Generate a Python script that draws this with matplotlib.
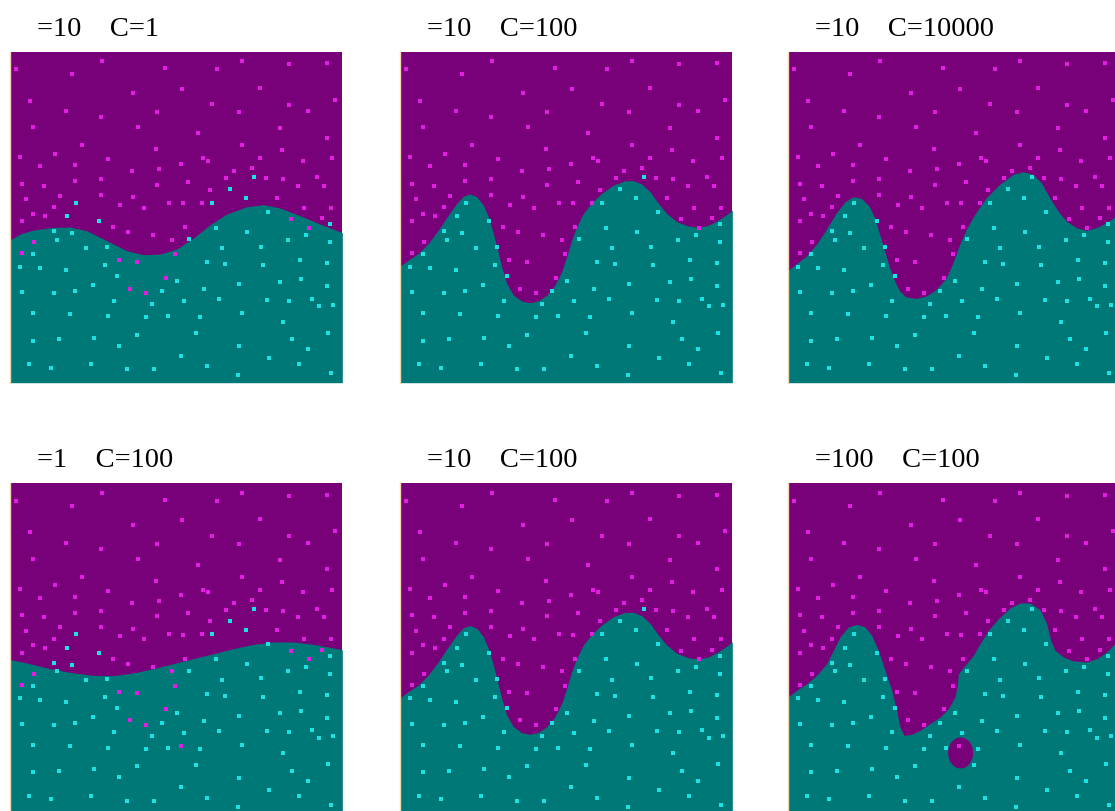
"""SVM decision regions for different gamma / C settings (2 x 3 grid)."""

import matplotlib
matplotlib.use("Agg")
import matplotlib.pyplot as plt
import numpy as np
from matplotlib.patches import Ellipse

# Panel units: x 0..997, y 0..993
XMAX, YMAX = 997, 993

# Magenta class points
POS_POINTS = [
    (17, 940), (275, 964), (465, 943), (697, 964), (620, 940), (837, 955), (950, 958),
    (186, 925), (368, 869), (515, 882), (750, 885), (59, 846), (607, 835), (836, 834),
    (975, 849), (169, 815), (272, 796), (442, 812), (687, 812), (893, 815), (70, 766),
    (385, 766), (565, 749), (810, 763), (950, 735), (216, 712), (438, 700), (697, 712),
    (815, 698), (29, 677), (136, 687), (295, 671), (580, 674), (593, 666), (750, 674),
    (878, 666), (967, 674), (89, 649), (196, 653), (365, 634), (448, 640), (512, 657),
    (726, 643), (673, 634), (920, 616), (37, 597), (102, 591), (196, 604), (272, 611),
    (442, 594), (534, 603), (647, 614), (767, 614), (820, 611), (865, 591), (943, 591),
    (151, 561), (272, 562), (368, 557), (600, 579), (802, 553), (49, 550), (133, 526),
    (331, 534), (403, 525), (478, 540), (519, 538), (577, 540), (883, 525), (963, 525),
    (69, 507), (106, 499), (37, 485), (842, 491), (935, 493), (308, 467), (525, 467),
    (897, 465), (355, 451), (429, 442), (486, 429), (73, 422), (37, 388), (495, 385),
    (326, 368), (382, 363), (469, 315), (359, 282), (409, 269),
]

# Cyan class points
NEG_POINTS = [
    (733, 616), (661, 580), (607, 540), (707, 553), (199, 540), (172, 499), (775, 511),
    (267, 485), (959, 475), (617, 465), (710, 451), (133, 454), (186, 448), (140, 429),
    (538, 431), (833, 429), (887, 442), (959, 421), (229, 403), (291, 407), (635, 404),
    (753, 408), (69, 385), (590, 361), (646, 355), (869, 368), (950, 358), (29, 348),
    (89, 344), (169, 338), (285, 352), (760, 352), (322, 320), (502, 304), (810, 303),
    (873, 310), (249, 292), (687, 295), (950, 289), (37, 271), (133, 268), (196, 275),
    (456, 275), (583, 281), (312, 246), (425, 236), (522, 244), (627, 250), (770, 249),
    (836, 246), (905, 252), (928, 230), (970, 234), (70, 209), (179, 206), (295, 200),
    (408, 196), (474, 200), (571, 196), (697, 209), (820, 183), (70, 126), (146, 131),
    (252, 135), (382, 144), (558, 148), (847, 131), (953, 150), (326, 111), (686, 110),
    (893, 100), (514, 81), (776, 73), (57, 55), (123, 45), (243, 55), (352, 40),
    (431, 40), (591, 49), (866, 55), (962, 28), (683, 22),
]

# one extra magenta point shown only in the bottom-left / bottom-right panels
EXTRA_POS = (513, 206)

# Decision boundaries (teal below, purple above)
BND_G10_C1 = [
    (0, 428), (30, 446), (70, 458), (130, 466), (180, 467), (230, 456), (290, 426),
    (350, 396), (400, 384), (450, 386), (500, 401), (550, 434), (600, 474), (650, 506),
    (710, 528), (760, 534), (810, 524), (870, 501), (930, 476), (997, 450),
]
BND_G10_C100 = [
    (0, 350), (25, 368), (55, 388), (85, 418), (115, 458), (145, 503), (170, 538),
    (190, 560), (210, 566), (230, 558), (250, 533), (265, 498), (280, 448), (293, 398),
    (305, 348), (320, 298), (340, 263), (365, 245), (390, 240), (415, 246), (440, 263),
    (465, 293), (485, 333), (500, 378), (515, 428), (530, 468), (550, 508), (575, 540),
    (605, 568), (640, 593), (675, 606), (700, 606), (725, 596), (750, 573), (775, 538),
    (800, 508), (830, 483), (865, 470), (895, 466), (925, 472), (955, 488), (985, 508),
    (997, 518),
]
BND_G10_C10000 = [
    (0, 337), (25, 357), (55, 380), (85, 415), (115, 460), (145, 510), (170, 542),
    (195, 558), (220, 553), (243, 530), (260, 495), (275, 445), (290, 395), (305, 345),
    (320, 305), (335, 275), (355, 257), (385, 253), (415, 260), (445, 280), (475, 315),
    (495, 360), (515, 415), (535, 460), (560, 505), (595, 555), (635, 595), (675, 625),
    (705, 633), (735, 625), (760, 600), (785, 555), (810, 515), (835, 485), (865, 465),
    (895, 457), (925, 465), (955, 480), (985, 500), (997, 508),
]
BND_G1_C100 = [
    (0, 464), (50, 454), (120, 437), (190, 424), (250, 417), (310, 416), (370, 424),
    (430, 437), (490, 452), (550, 467), (610, 482), (670, 497), (730, 510), (790, 517),
    (850, 517), (910, 510), (970, 499), (997, 494),
]
BND_G100_C100 = [
    (0, 352), (26, 372), (56, 392), (86, 417), (116, 452), (136, 492), (156, 532),
    (181, 562), (206, 570), (231, 562), (251, 537), (271, 492), (291, 432), (311, 372),
    (326, 312), (336, 262), (348, 237), (371, 240), (396, 252), (426, 272), (456, 292),
    (481, 317), (501, 352), (508, 387), (511, 422), (531, 447), (556, 477), (576, 512),
    (601, 552), (631, 587), (666, 619), (696, 634), (726, 634), (756, 614), (776, 572),
    (788, 522), (801, 492), (826, 472), (856, 460), (896, 457), (926, 467), (956, 487),
    (981, 512), (997, 528),
]
# isolated purple island in the gamma=100 panel: centre x, centre y, width, height
HOLE_G100 = (518, 184, 75, 93)

TITLES = ["=10    C=1", "=10    C=100", "=10    C=10000",
          "=1    C=100", "=10    C=100", "=100    C=100"]

PURPLE = "#780078"
TEAL = "#007878"
MAGENTA = "#e11ee1"
CYAN = "#1ee1e1"
EDGE = "#f0d8b0"

W, H = 1115, 811
fig = plt.figure(figsize=(W / 100, H / 100), dpi=100)
fig.patch.set_facecolor("white")

lefts = [10, 400, 788]
tops = [51.7, 483.3]
pw, ph = 332.3, 331.0

panels = [
    (BND_G10_C1, None, False),
    (BND_G10_C100, None, False),
    (BND_G10_C10000, None, False),
    (BND_G1_C100, None, True),
    (BND_G10_C100, None, False),
    (BND_G100_C100, HOLE_G100, True),
]

pos = np.array(POS_POINTS, dtype=float)
neg = np.array(NEG_POINTS, dtype=float)

for i, (bnd, hole, extra) in enumerate(panels):
    r, c = divmod(i, 3)
    left, top = lefts[c], tops[r]
    ax = fig.add_axes([left / W, 1 - (top + ph) / H, pw / W, ph / H])
    ax.set_facecolor(PURPLE)
    bx, by = zip(*bnd)
    ax.fill_between(bx, 0, by, color=TEAL, linewidth=0, zorder=1)
    if hole is not None:
        ax.add_patch(Ellipse((hole[0], hole[1]), hole[2], hole[3],
                             facecolor=PURPLE, edgecolor="none", zorder=2))
    p = pos
    if extra:
        p = np.vstack([pos, EXTRA_POS])
    ax.scatter(p[:, 0], p[:, 1], s=7, marker="s", color=MAGENTA, linewidths=0, zorder=3)
    ax.scatter(neg[:, 0], neg[:, 1], s=7, marker="s", color=CYAN, linewidths=0, zorder=3)
    ax.set_xlim(0, XMAX)
    ax.set_ylim(0, YMAX)
    ax.set_xticks([])
    ax.set_yticks([])
    for side in ("top", "right", "bottom"):
        ax.spines[side].set_visible(False)
    ax.spines["left"].set_color(EDGE)
    ax.spines["left"].set_linewidth(1.0)

    baseline = top - 16
    fig.text((left + 27) / W, 1 - baseline / H, TITLES[i], ha="left", va="baseline",
             fontsize=20.5, family="Liberation Serif", color="black")

fig.savefig("out.png", dpi=100)
